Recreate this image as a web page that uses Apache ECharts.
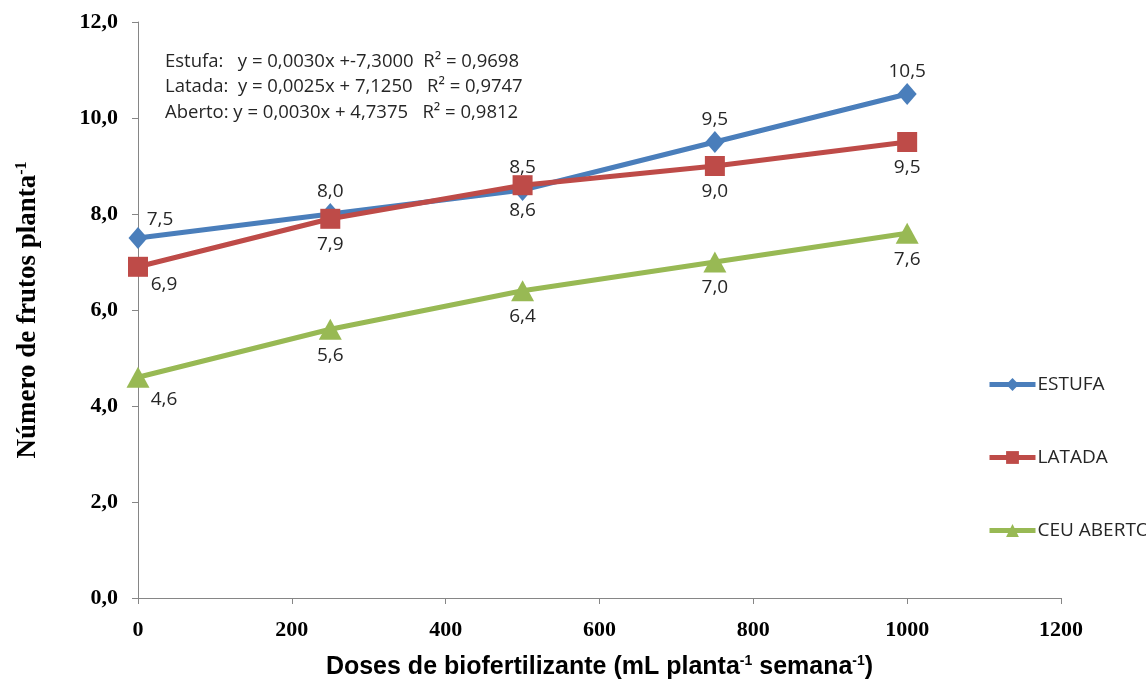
<!DOCTYPE html>
<html>
<head>
<meta charset="utf-8">
<script src="https://cdn.jsdelivr.net/npm/echarts@6/dist/echarts.min.js"></script>
<style>
html,body{margin:0;padding:0;background:#fff;}
#c{width:1146px;height:680px;}
</style>
</head>
<body>
<div id="c"></div>
<script>
var doses = [0, 250, 500, 750, 1000];
var estufa = [7.5, 8.0, 8.5, 9.5, 10.5];
var latada = [6.9, 7.9, 8.6, 9.0, 9.5];
var ceuAberto = [4.6, 5.6, 6.4, 7.0, 7.6];
var seriesNames = ['ESTUFA', 'LATADA', 'CEU ABERTO'];
var equations = [
  'Estufa:   y = 0,0030x +-7,3000  R\u00b2 = 0,9698',
  'Latada:  y = 0,0025x + 7,1250   R\u00b2 = 0,9747',
  'Aberto: y = 0,0030x + 4,7375   R\u00b2 = 0,9812'
];

function fmt(v){ return v.toFixed(1).replace('.', ','); }
function pairs(arr){ return arr.map(function(v,i){ return [doses[i], v]; }); }

var labelFont = {fontFamily:'"Open Sans", Lato, sans-serif', fontSize:19, color:'#262626'};

function mkSeries(name, arr, color, symbol, size, pos, firstOffset){
  var data = pairs(arr).map(function(p, i){
    var d = {value:p};
    if(i === 0){ d.label = {offset: firstOffset}; }
    return d;
  });
  return {
    name:name, type:'line', data:data, symbol:symbol, symbolSize:size,
    lineStyle:{color:color, width:5}, itemStyle:{color:color},
    z: 3,
    label:Object.assign({show:true, position:pos, distance: pos === 'top' ? 2 : 6,
      formatter:function(p){ return fmt(p.value[1]); }}, labelFont)
  };
}

var chart = echarts.init(document.getElementById('c'));
chart.setOption({
  animation:false,
  grid:{left:138, right:85, top:22, bottom:82, containLabel:false, outerBoundsMode:'none'},
  xAxis:{
    type:'value', min:0, max:1200, interval:200,
    axisLine:{lineStyle:{color:'#868686', width:1}},
    axisTick:{show:true, length:6, lineStyle:{color:'#868686'}},
    splitLine:{show:false},
    axisLabel:{margin:21, formatter:function(v){return String(v);}, fontFamily:'"Liberation Serif", serif', fontWeight:'bold', fontSize:22, color:'#000'},
    name:'{a|Doses de biofertilizante (mL planta}{s|-1}{a| semana}{s|-1}{a|)}',
    nameLocation:'middle', nameGap:56,
    nameTextStyle:{
      rich:{
        a:{fontFamily:'"Liberation Sans", Arial, sans-serif', fontWeight:'bold', fontSize:25, color:'#000'},
        s:{fontFamily:'"Liberation Sans", Arial, sans-serif', fontWeight:'bold', fontSize:14, color:'#000', verticalAlign:'top', padding:[0,0,12,0]}
      }
    }
  },
  yAxis:{
    type:'value', min:0, max:12, interval:2,
    axisLine:{show:true, lineStyle:{color:'#868686', width:1}},
    axisTick:{show:true, length:6, lineStyle:{color:'#868686'}},
    splitLine:{show:false},
    axisLabel:{margin:20, formatter:function(v){return fmt(v);}, fontFamily:'"Liberation Serif", serif', fontWeight:'bold', fontSize:22, color:'#000'},
    name:'{a|Número de frutos planta}{s|-1}',
    nameLocation:'middle', nameGap:96, nameRotate:90,
    nameTextStyle:{
      rich:{
        a:{fontFamily:'"Liberation Serif", serif', fontWeight:'bold', fontSize:27, color:'#000'},
        s:{fontFamily:'"Liberation Serif", serif', fontWeight:'bold', fontSize:16, color:'#000', verticalAlign:'top', padding:[0,0,12,0]}
      }
    }
  },
  legend:{
    orient:'vertical', left:987, top:375, padding:0, itemWidth:46, itemHeight:16, itemGap:54,
    data:seriesNames,
    lineStyle:{width:5},
    textStyle:{fontFamily:'"Open Sans", Lato, sans-serif', fontSize:19, color:'#262626', padding:[0,0,0,-3]}
  },
  graphic:equations.map(function(t, i){
    return {type:'text', left:165, top:52 + i*25.5, style:{text:t, font:'18.5px "Open Sans", Lato, sans-serif', fill:'#262626'}};
  }),
  series:[
    mkSeries(seriesNames[0], estufa, '#4A7EBB', 'diamond', [19,22], 'top', [22,4]),
    mkSeries(seriesNames[1], latada, '#BE4B48', 'rect', 20, 'bottom', [26,-8]),
    mkSeries(seriesNames[2], ceuAberto, '#98B954', 'triangle', [23,21], 'bottom', [26,-4])
  ]
});
</script>
</body>
</html>
